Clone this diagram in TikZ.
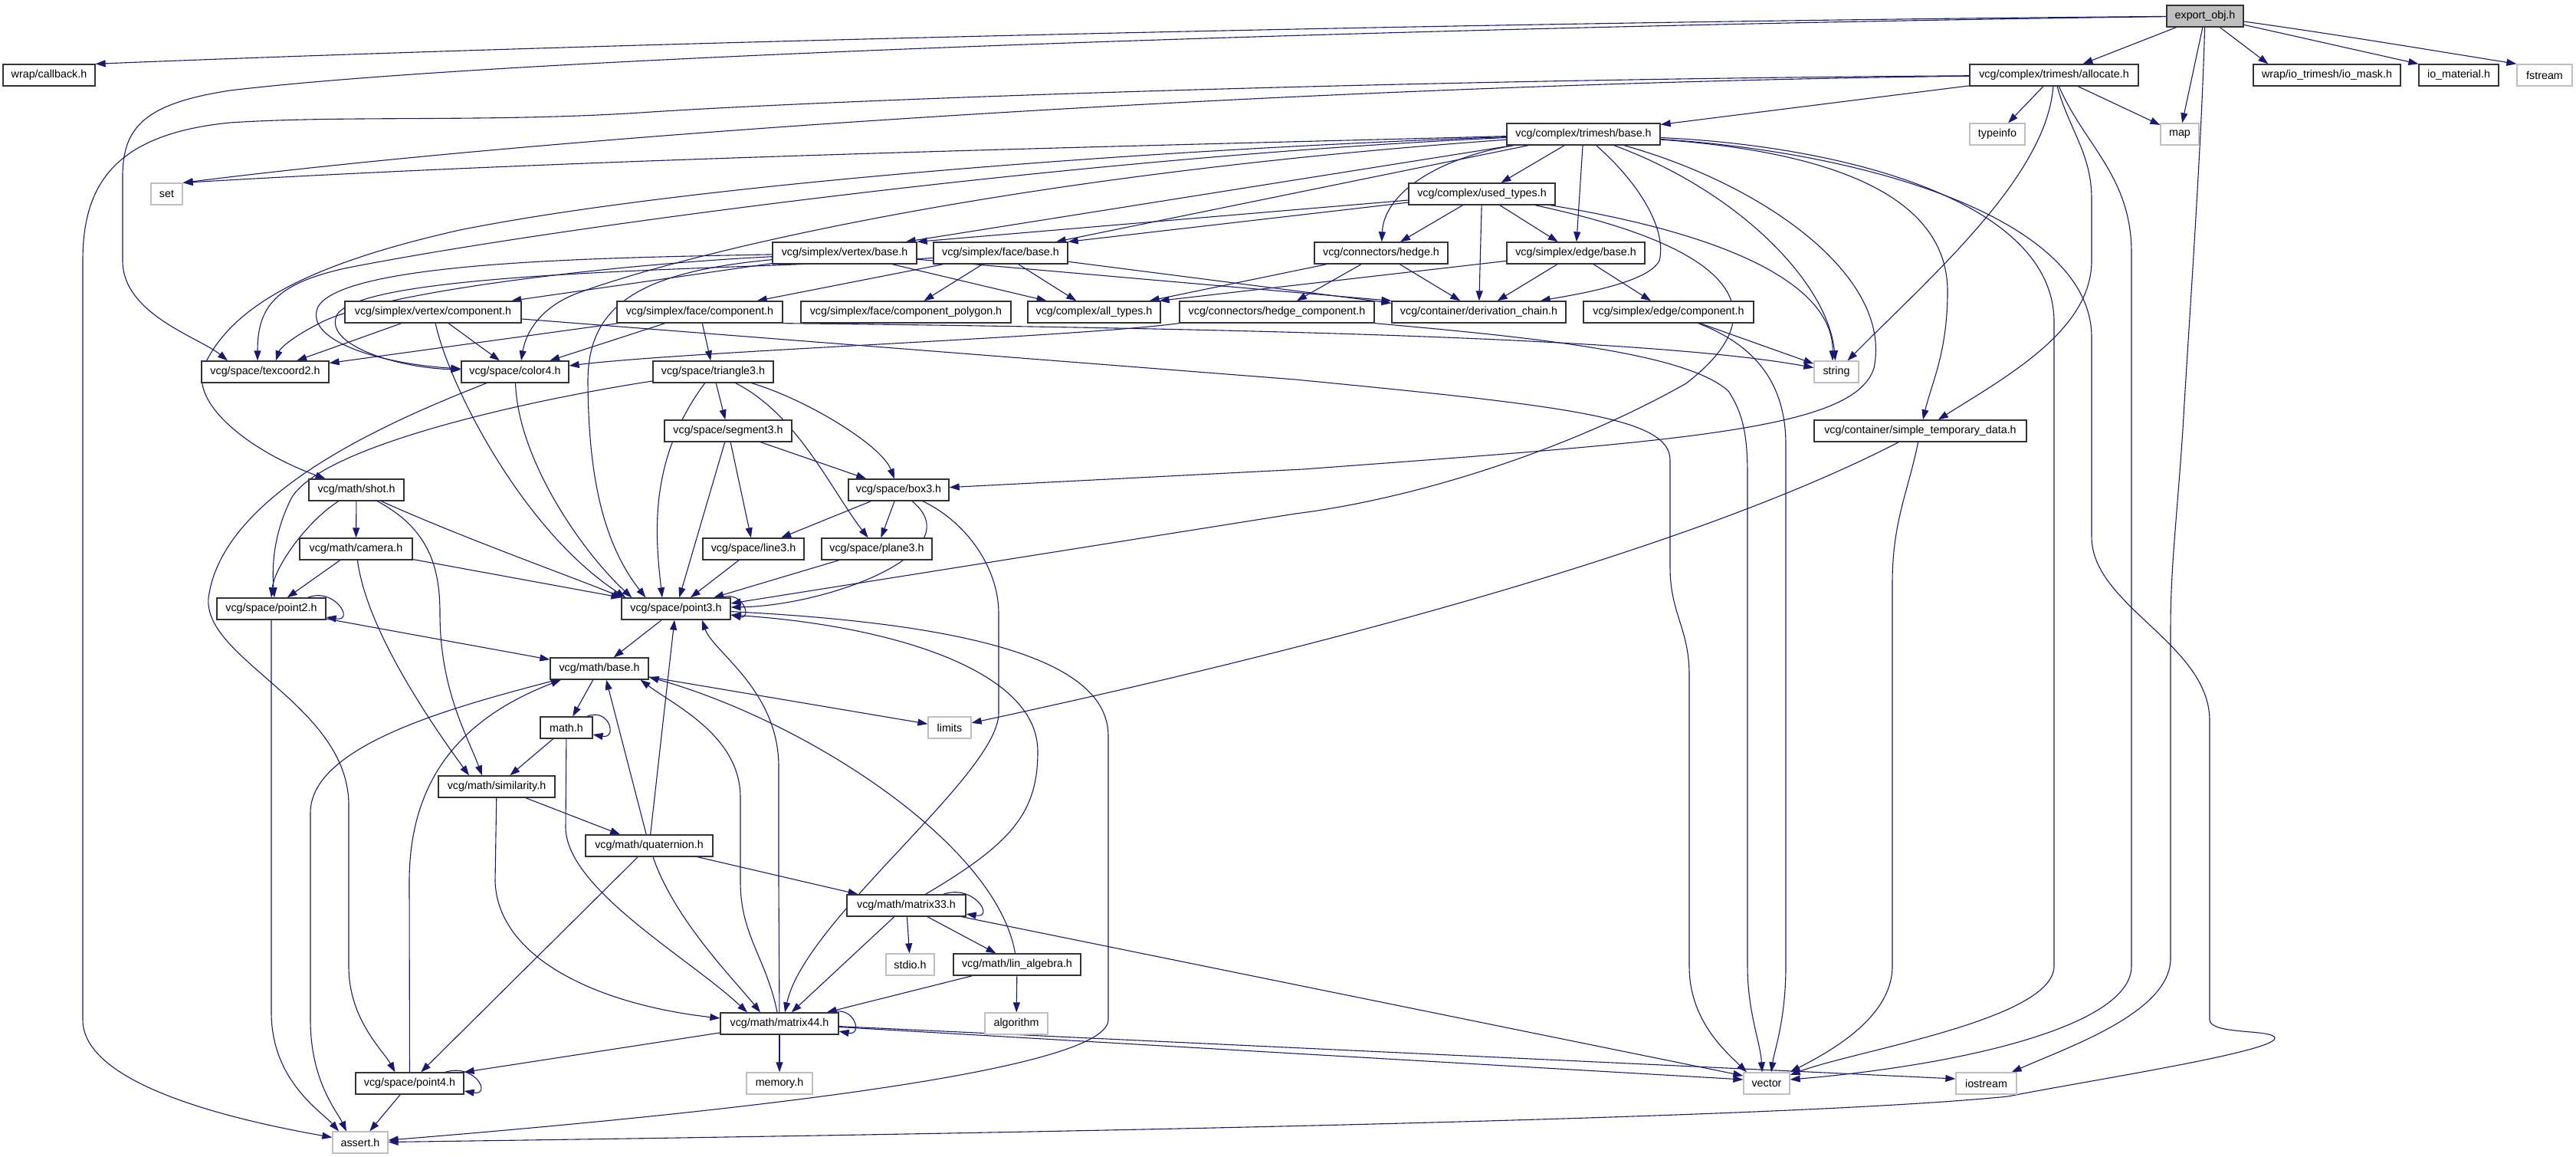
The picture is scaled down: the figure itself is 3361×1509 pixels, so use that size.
\documentclass[tikz,border=0pt]{standalone}
\usepackage{fontspec}
\setmainfont{Liberation Sans}
\usetikzlibrary{arrows.meta}
\definecolor{edgec}{HTML}{191970}
\definecolor{extc}{HTML}{BFBFBF}
\pgfdeclarelayer{background}
\pgfsetlayers{background,main}
\tikzset{
  nd/.style={draw=black!80, line width=1.3pt, fill=white, minimum height=28pt, inner sep=0pt, font=\fontsize{14.3}{17}\selectfont},
  ext/.style={nd, draw=extc},
  e/.style={draw=edgec, line width=1.1pt, -{Triangle[length=13pt,width=9pt]}},
}
\begin{document}
\begin{tikzpicture}[x=1pt,y=-1pt]
\useasboundingbox (0,0) rectangle (3361,1509);
% ---------------- nodes
\node[nd, fill=extc, minimum width=100pt] (export) at (2877,21) {export\_obj.h};
\node[nd, minimum width=120pt] (callback) at (64,98) {wrap/callback.h};
\node[nd, minimum width=220pt] (allocate) at (2680,98) {vcg/complex/trimesh/allocate.h};
\node[nd, minimum width=192pt] (iomask) at (3036,98) {wrap/io\_trimesh/io\_mask.h};
\node[nd, minimum width=104pt] (iomaterial) at (3208,98) {io\_material.h};
\node[ext, minimum width=72pt] (fstream) at (3320,98) {fstream};
\node[nd, minimum width=200pt] (tbase) at (2066,175) {vcg/complex/trimesh/base.h};
\node[ext, minimum width=72pt] (typeinfo) at (2606,175) {typeinfo};
\node[ext, minimum width=50pt] (map) at (2844,175) {map};
\node[ext, minimum width=41pt] (set) at (217.5,253) {set};
\node[nd, minimum width=191pt] (usedtypes) at (1933.5,253) {vcg/complex/used\_types.h};
\node[nd, minimum width=188pt] (vbase) at (1102,330) {vcg/simplex/vertex/base.h};
\node[nd, minimum width=175pt] (fbase) at (1305.5,330) {vcg/simplex/face/base.h};
\node[nd, minimum width=174pt] (hedge) at (1802,330) {vcg/connectors/hedge.h};
\node[nd, minimum width=180pt] (ebase) at (2056,330) {vcg/simplex/edge/base.h};
\node[nd, minimum width=230pt] (vcomp) at (565,407) {vcg/simplex/vertex/component.h};
\node[nd, minimum width=216pt] (fcomp) at (913,407) {vcg/simplex/face/component.h};
\node[nd, minimum width=274pt] (fpoly) at (1182,407) {vcg/simplex/face/component\_polygon.h};
\node[nd, minimum width=173pt] (alltypes) at (1427.5,407) {vcg/complex/all\_types.h};
\node[nd, minimum width=254pt] (hcomp) at (1666,407) {vcg/connectors/hedge\_component.h};
\node[nd, minimum width=227pt] (deriv) at (1929.5,407) {vcg/container/derivation\_chain.h};
\node[nd, minimum width=222pt] (ecomp) at (2177,407) {vcg/simplex/edge/component.h};
\node[nd, minimum width=166pt] (texcoord) at (346,485) {vcg/space/texcoord2.h};
\node[nd, minimum width=140pt] (color4) at (672,485) {vcg/space/color4.h};
\node[nd, minimum width=157pt] (triangle3) at (930.5,485) {vcg/space/triangle3.h};
\node[ext, minimum width=58pt] (string) at (2396,485) {string};
\node[nd, minimum width=166pt] (segment3) at (950,562) {vcg/space/segment3.h};
\node[nd, minimum width=277pt] (simpletemp) at (2505.5,562) {vcg/container/simple\_temporary\_data.h};
\node[nd, minimum width=124pt] (shot) at (465,639) {vcg/math/shot.h};
\node[nd, minimum width=131pt] (box3) at (1172.5,639) {vcg/space/box3.h};
\node[nd, minimum width=147pt] (camera) at (464.5,716) {vcg/math/camera.h};
\node[nd, minimum width=132pt] (line3) at (983,716) {vcg/space/line3.h};
\node[nd, minimum width=144pt] (plane3) at (1144,716) {vcg/space/plane3.h};
\node[nd, minimum width=142pt] (point2) at (354,794) {vcg/space/point2.h};
\node[nd, minimum width=142pt] (point3) at (882,794) {vcg/space/point3.h};
\node[nd, minimum width=128pt] (mbase) at (782,872) {vcg/math/base.h};
\node[nd, minimum width=68pt] (mathh) at (739,949) {math.h};
\node[ext, minimum width=56pt] (limits) at (1239,949) {limits};
\node[nd, minimum width=152pt] (similarity) at (648,1026) {vcg/math/similarity.h};
\node[nd, minimum width=166pt] (quaternion) at (847,1103) {vcg/math/quaternion.h};
\node[nd, minimum width=155pt] (matrix33) at (1182.5,1181) {vcg/math/matrix33.h};
\node[ext, minimum width=63pt] (stdio) at (1187.5,1258) {stdio.h};
\node[nd, minimum width=166pt] (linalg) at (1327,1258) {vcg/math/lin\_algebra.h};
\node[nd, minimum width=154pt] (matrix44) at (1017,1335) {vcg/math/matrix44.h};
\node[ext, minimum width=82pt] (algorithm) at (1326,1335) {algorithm};
\node[nd, minimum width=141pt] (point4) at (534.5,1413) {vcg/space/point4.h};
\node[ext, minimum width=86pt] (memory) at (1017,1413) {memory.h};
\node[ext, minimum width=60pt] (vector) at (2305,1413) {vector};
\node[ext, minimum width=79pt] (iostream) at (2591.5,1413) {iostream};
\node[ext, minimum width=72pt] (assert) at (470,1490) {assert.h};
% ---------------- edges
\begin{pgfonlayer}{background}
% export_obj.h
\draw[e] (export) .. controls (2000,28) and (900,52) .. (callback.north east);
\draw[e] (export) .. controls (2000,32) and (700,70) .. (300,118) .. controls (190,135) and (160,165) .. (160,230) -- (160,340) .. controls (160,410) and (260,440) .. ([xshift=-49pt]texcoord.north);
\draw[e] (export) -- (allocate);
\draw[e] (export) -- (map);
\draw[e] (export) -- ([xshift=20pt]iomask.north west);
\draw[e] (export) -- (iomaterial.north west);
\draw[e] (export) .. controls (3050,45) and (3200,70) .. (fstream.north west);
\draw[e] (export) .. controls (2872,200) and (2856,420) .. (2848,560) .. controls (2840,680) and (2832,740) .. (2832,820) -- (2832,1250) .. controls (2832,1320) and (2700,1365) .. (iostream);
% allocate.h
\draw[e] (allocate) -- (tbase);
\draw[e] (allocate) -- (typeinfo);
\draw[e] (allocate) -- (map);
\draw[e] (allocate) .. controls (1800,108) and (800,168) .. (set.north east);
\draw[e] (allocate) .. controls (1800,104) and (1100,130) .. (850,146) .. controls (650,160) and (450,150) .. (300,160) .. controls (150,175) and (108,240) .. (108,340) -- (108,1330) .. controls (108,1420) and (330,1465) .. (assert);
\draw[e] (allocate) .. controls (2670,230) and (2520,360) .. (string);
\draw[e] (allocate) .. controls (2700,170) and (2729,200) .. (2729,260) -- (2729,340) .. controls (2729,430) and (2620,490) .. (simpletemp);
\draw[e] (allocate) .. controls (2720,190) and (2781,230) .. (2781,330) -- (2781,1260) .. controls (2781,1340) and (2550,1390) .. ([yshift=5pt]vector.east);
% trimesh/base.h
\draw[e] (tbase) -- (usedtypes);
\draw[e] (tbase) .. controls (1880,205) and (1806,250) .. (hedge);
\draw[e] (tbase) -- (ebase);
\draw[e] (tbase) .. controls (2140,240) and (2175,300) .. (2165,340) .. controls (2150,370) and (2050,385) .. (deriv);
\draw[e] (tbase) .. controls (2270,250) and (2385,370) .. (string);
\draw[e] (tbase) .. controls (2300,240) and (2470,360) .. (2445,480) .. controls (2420,560) and (2200,575) .. (1700,612) -- (box3);
\draw[e] (tbase) .. controls (2350,195) and (2541,240) .. (2541,380) .. controls (2541,460) and (2520,500) .. (simpletemp);
\draw[e] (tbase) .. controls (2400,190) and (2680,260) .. (2680,420) -- (2680,1260) .. controls (2680,1330) and (2420,1370) .. ([yshift=11pt]vector.east);
\draw[e] (tbase) .. controls (2450,200) and (2729,290) .. (2729,440) -- (2729,700) .. controls (2729,790) and (2883,840) .. (2883,940) -- (2883,1330) .. controls (2883,1350) and (2968,1342) .. (2968,1354) .. controls (2968,1372) and (2720,1410) .. (2620,1430) .. controls (2300,1462) and (1200,1480) .. (assert);
\draw[e] (tbase) .. controls (1500,190) and (800,205) .. (set.north east);
\draw[e] (tbase) .. controls (1500,195) and (900,240) .. (600,300) .. controls (400,345) and (300,400) .. (265,480) .. controls (250,530) and (330,590) .. (shot);
\draw[e] (tbase) .. controls (1400,205) and (700,300) .. (450,350) .. controls (360,370) and (336,400) .. ([xshift=-10pt]texcoord.north);
\draw[e] (tbase) -- ([xshift=-15pt]vbase.north east);
\draw[e] (tbase) -- ([xshift=-16pt]fbase.north east);
\draw[e] (tbase) .. controls (1300,230) and (900,330) .. (760,380) .. controls (700,400) and (685,440) .. ([xshift=8pt]color4.north);
% used_types.h
\draw[e] (usedtypes) -- (vbase.north east);
\draw[e] (usedtypes) -- (fbase.north east);
\draw[e] (usedtypes) -- (hedge);
\draw[e] (usedtypes) -- (deriv);
\draw[e] (usedtypes) -- (ebase);
\draw[e] (usedtypes) .. controls (2280,310) and (2392,380) .. ([xshift=-5pt]string.north);
\draw[e] (usedtypes) .. controls (2250,320) and (2330,400) .. (2200,500) .. controls (2050,585) and (1850,650) .. (1690,670) -- ([yshift=7pt]point3.east);
% hedge / edge
\draw[e] (hedge) -- ([xshift=-15pt]alltypes.north east);
\draw[e] (hedge) -- (hcomp);
\draw[e] (hedge) -- (deriv);
\draw[e] (ebase) -- ([xshift=-2pt]alltypes.north east);
\draw[e] (ebase) -- (deriv);
\draw[e] (ebase) -- (ecomp);
% vertex/base.h
\draw[e] (vbase) -- (alltypes);
\draw[e] (vbase) -- (deriv.north west);
\draw[e] (vbase) -- (vcomp);
\draw[e] (vbase) .. controls (800,345) and (500,380) .. (420,420) .. controls (380,440) and (365,455) .. ([xshift=14pt]texcoord.north);
\draw[e] (vbase) .. controls (800,336) and (450,340) .. (415,400) .. controls (395,445) and (500,475) .. (color4);
\draw[e] (vbase) .. controls (830,355) and (766,400) .. (767,500) .. controls (768,600) and (780,700) .. ([xshift=32pt]point3.north west);
% face/base.h
\draw[e] (fbase) -- (fcomp);
\draw[e] (fbase) -- (fpoly);
\draw[e] (fbase) -- (alltypes);
\draw[e] (fbase) -- ([yshift=-3pt]deriv.north west);
\draw[e] (fbase) .. controls (1000,352) and (480,350) .. (440,410) .. controls (420,450) and (520,480) .. ([yshift=3pt]color4.west);
% vertex/component.h
\draw[e] (vcomp) -- (texcoord);
\draw[e] (vcomp) -- (color4);
\draw[e] (vcomp) .. controls (585,500) and (680,690) .. ([xshift=6pt]point3.north west);
\draw[e] (vcomp) -- (1690,495) .. controls (2050,530) and (2179,545) .. (2179,600) -- (2179,740) .. controls (2179,800) and (2204,820) .. (2204,880) -- (2204,1260) .. controls (2204,1330) and (2250,1370) .. ([xshift=-26pt]vector.north);
% face/component.h
\draw[e] (fcomp) -- (triangle3);
\draw[e] (fcomp) -- (color4);
\draw[e] (fcomp) -- (texcoord);
\draw[e] (fcomp.south east) .. controls (1600,428) and (2150,440) .. (string);
% hedge_component.h
\draw[e] (hcomp.south east) .. controls (2000,440) and (2200,460) .. (2255,510) .. controls (2275,540) and (2280,570) .. (2280,620) -- (2280,1260) .. controls (2280,1320) and (2297,1360) .. ([xshift=-6pt]vector.north);
\draw[e] (hcomp.south west) .. controls (1400,440) and (900,458) .. ([yshift=8pt]color4.east);
% edge/component.h
\draw[e] (ecomp) -- (string);
\draw[e] (ecomp) .. controls (2290,450) and (2330,500) .. (2330,580) -- (2330,1260) .. controls (2330,1330) and (2315,1370) .. ([xshift=6pt]vector.north);
% simple_temporary_data.h
\draw[e] (simpletemp) .. controls (2490,640) and (2469,680) .. (2469,760) -- (2469,1260) .. controls (2469,1330) and (2380,1375) .. (vector.north east);
\draw[e] (simpletemp) .. controls (2200,720) and (1700,850) .. (limits);
% triangle3.h
\draw[e] (triangle3) -- (segment3);
\draw[e] (triangle3) .. controls (1050,520) and (1150,580) .. (box3);
\draw[e] (triangle3) .. controls (1040,540) and (1085,640) .. (plane3);
\draw[e] (triangle3) .. controls (845,600) and (855,700) .. ([xshift=-18pt]point3.north);
\draw[e] (triangle3) .. controls (700,520) and (420,580) .. (380,650) .. controls (360,690) and (354,730) .. ([xshift=4pt]point2.north);
% segment3 / box3 / line3 / plane3
\draw[e] (segment3) -- (point3);
\draw[e] (segment3) -- (line3);
\draw[e] (segment3) -- (box3);
\draw[e] (box3) -- (line3);
\draw[e] (box3) -- (plane3);
\draw[e] (box3) .. controls (1270,720) and (1080,790) .. ([yshift=2pt]point3.east);
\draw[e] (box3) .. controls (1260,680) and (1303,740) .. (1303,800) -- (1303,930) .. controls (1303,1010) and (1050,1200) .. ([xshift=7pt]matrix44.north);
\draw[e] (line3) -- (point3);
\draw[e] (plane3) -- (point3);
% shot / camera
\draw[e] (shot) .. controls (400,680) and (358,740) .. (point2.north);
\draw[e] (shot) -- (camera);
\draw[e] (shot) .. controls (600,700) and (740,750) .. ([xshift=2pt]point3.north west);
\draw[e] (shot) .. controls (560,690) and (574,740) .. (574,800) .. controls (574,900) and (610,960) .. ([xshift=-19pt]similarity.north);
\draw[e] (camera) -- (point2);
\draw[e] (camera) -- (point3.north west);
\draw[e] (camera) .. controls (478,820) and (560,940) .. ([xshift=-36pt]similarity.north);
% point2
\draw[e] ([xshift=-24pt]point2.north east) .. controls +(35,-14) and +(38,6) .. ([yshift=-11pt]point2.east);
\draw[e] (point2) -- (mbase);
\draw[e] (point2) -- (354,1320) .. controls (354,1410) and (420,1450) .. ([xshift=-28pt]assert.north);
% point3
\draw[e] ([xshift=-12pt]point3.north east) .. controls +(28,-10) and +(28,6) .. ([yshift=-8pt]point3.east);
\draw[e] (point3) -- (mbase);
\draw[e] (point3) .. controls (1300,815) and (1446,870) .. (1446,960) -- (1446,1330) .. controls (1446,1400) and (900,1455) .. (assert);
% math/base.h
\draw[e] (mbase) -- (mathh);
\draw[e] (mbase) -- (limits);
\draw[e] (mbase) .. controls (600,920) and (405,970) .. (405,1060) -- (405,1330) .. controls (405,1410) and (440,1450) .. ([xshift=-18pt]assert.north);
% math.h
\draw[e] ([xshift=-8pt]mathh.north east) .. controls +(30,-12) and +(32,6) .. ([yshift=-9pt]mathh.east);
\draw[e] (mathh) -- (738,1080) .. controls (740,1160) and (900,1250) .. ([xshift=-42pt]matrix44.north);
\draw[e] (mathh) -- (similarity);
% similarity / quaternion
\draw[e] (similarity) -- (quaternion);
\draw[e] (similarity) -- (646,1150) .. controls (650,1250) and (780,1310) .. ([yshift=7pt]matrix44.west);
\draw[e] (quaternion) -- ([xshift=-2pt]point3.south);
\draw[e] (quaternion) -- ([xshift=9pt]mbase.south);
\draw[e] (quaternion) -- (point4);
\draw[e] (quaternion) -- (matrix33);
\draw[e] (quaternion) .. controls (880,1200) and (960,1280) .. ([xshift=-25pt]matrix44.north);
% matrix33
\draw[e] ([xshift=-30pt]matrix33.north east) .. controls +(40,-14) and +(38,6) .. ([yshift=-11pt]matrix33.east);
\draw[e] (matrix33) -- (stdio);
\draw[e] (matrix33) -- (linalg);
\draw[e] (matrix33) -- (matrix44);
\draw[e] (matrix33) -- ([yshift=10pt]vector.west);
\draw[e] (matrix33) .. controls (1320,1100) and (1354,1060) .. (1354,980) .. controls (1354,870) and (1150,815) .. ([yshift=-8pt]point3.east);
% lin_algebra
\draw[e] (linalg) -- ([xshift=-16pt]matrix44.north east);
\draw[e] (linalg) -- (algorithm);
\draw[e] (linalg) .. controls (1300,1100) and (1050,940) .. ([yshift=-11pt]mbase.east);
% matrix44
\draw[e] ([xshift=-10pt]matrix44.north east) .. controls +(30,-10) and +(32,6) .. ([yshift=-10pt]matrix44.east);
\draw[e] (matrix44) -- (memory);
\draw[e] (matrix44) -- ([yshift=5pt]vector.west);
\draw[e] (matrix44) -- ([yshift=6pt]iostream.west);
\draw[e] (matrix44) -- (point4.north east);
\draw[e] (matrix44) .. controls (1000,1250) and (966,1220) .. (966,1150) -- (966,1040) .. controls (966,960) and (880,920) .. ([xshift=-11pt]mbase.south east);
\draw[e] (matrix44) -- (1016,1150) -- (1016,1000) .. controls (1016,900) and (930,850) .. ([xshift=34pt]point3.south);
% point4
\draw[e] ([xshift=-25pt]point4.north east) .. controls +(40,-12) and +(36,6) .. ([yshift=-10pt]point4.east);
\draw[e] (point4) -- (assert);
\draw[e] (point4) -- (534,1150) .. controls (534,1000) and (620,930) .. ([xshift=-50pt]mbase.south);
% color4
\draw[e] (color4) .. controls (676,600) and (760,720) .. ([xshift=14pt]point3.north west);
\draw[e] (color4) .. controls (520,545) and (290,640) .. (272,780) .. controls (265,860) and (455,920) .. (455,1050) -- (455,1260) .. controls (455,1330) and (500,1370) .. ([xshift=-19pt]point4.north);
\end{pgfonlayer}
\end{tikzpicture}
\end{document}
